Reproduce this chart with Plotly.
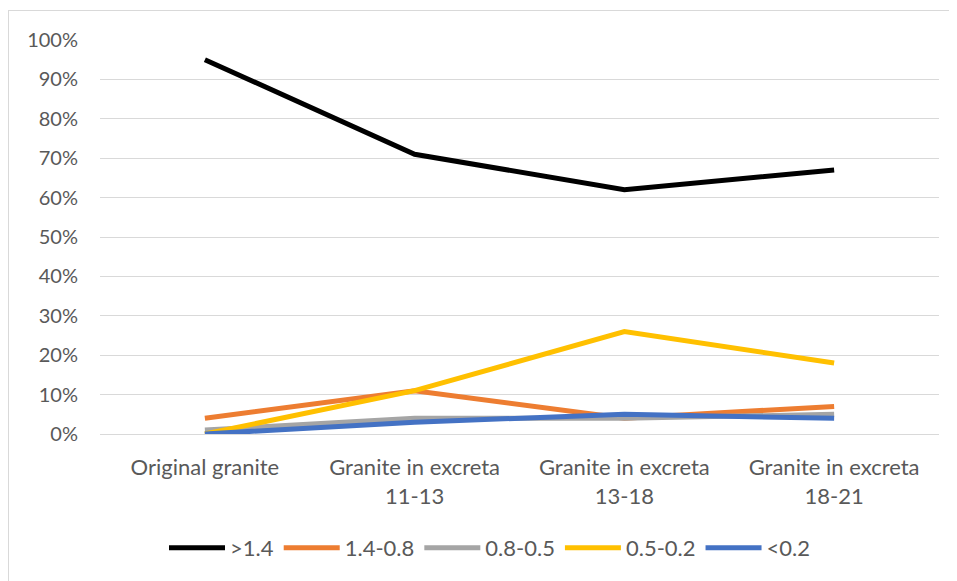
import plotly.graph_objects as go

categories = ["Original granite", "Granite in excreta<br>11-13", "Granite in excreta<br>13-18", "Granite in excreta<br>18-21"]
series_names = [">1.4", "1.4-0.8", "0.8-0.5", "0.5-0.2", "<0.2"]
s_gt14 = [0.95, 0.71, 0.62, 0.67]
s_14_08 = [0.04, 0.11, 0.04, 0.07]
s_08_05 = [0.01, 0.04, 0.04, 0.05]
s_05_02 = [0.00, 0.11, 0.26, 0.18]
s_lt02 = [0.00, 0.03, 0.05, 0.04]
colors = ["#000000", "#ED7D31", "#A5A5A5", "#FFC000", "#4472C4"]
ytick_vals = [i / 10 for i in range(11)]
ytick_text = [f"{i*10}%" for i in range(11)]

# page body has an 8px offset
W, H = 949, 573
L, R, T, B = 92, 18, 32, 147
pw = W - L - R
ph = H - T - B

fig = go.Figure()
for name, vals, c in zip(series_names, [s_gt14, s_14_08, s_08_05, s_05_02, s_lt02], colors):
    fig.add_trace(go.Scatter(x=categories, y=vals, name=name, mode="lines",
                             line=dict(color=c, width=5)))

# chart border (left and top edges visible)
px = lambda x: (x - L) / pw
py = lambda y: (T + ph - y) / ph
fig.add_shape(type="line", xref="paper", yref="paper", x0=px(0.5), x1=px(0.5), y0=py(2), y1=py(H + 5),
              line=dict(color="#D9D9D9", width=1))
fig.add_shape(type="line", xref="paper", yref="paper", x0=px(0.5), x1=px(W + 5), y0=py(2.5), y1=py(2.5),
              line=dict(color="#D9D9D9", width=1))

fnt = "Lato, Liberation Sans, Arial"
fig.update_layout(
    width=W, height=H,
    margin=dict(l=L, r=R, t=T, b=B),
    paper_bgcolor="white", plot_bgcolor="white",
    font=dict(family=fnt, size=20, color="#595959"),
    showlegend=True,
    legend=dict(orientation="h", x=px(482), xanchor="center", y=py(540), yanchor="middle",
                font=dict(family=fnt, size=22, color="#595959"), itemwidth=56, tracegroupgap=0),
    xaxis=dict(type="category", range=[-0.5, 3.5], showgrid=False, showline=True,
               linecolor="#D9D9D9", linewidth=1, ticks="", ticklabelstandoff=14,
               tickfont=dict(family=fnt, size=22, color="#595959")),
    yaxis=dict(range=[0, 1], tickvals=ytick_vals, ticktext=ytick_text, showgrid=True,
               gridcolor="#D9D9D9", gridwidth=1, zeroline=False, showline=False, ticks="",
               ticklabelstandoff=21, tickfont=dict(family=fnt, size=20, color="#595959")),
)
fig.write_html("out.html")
